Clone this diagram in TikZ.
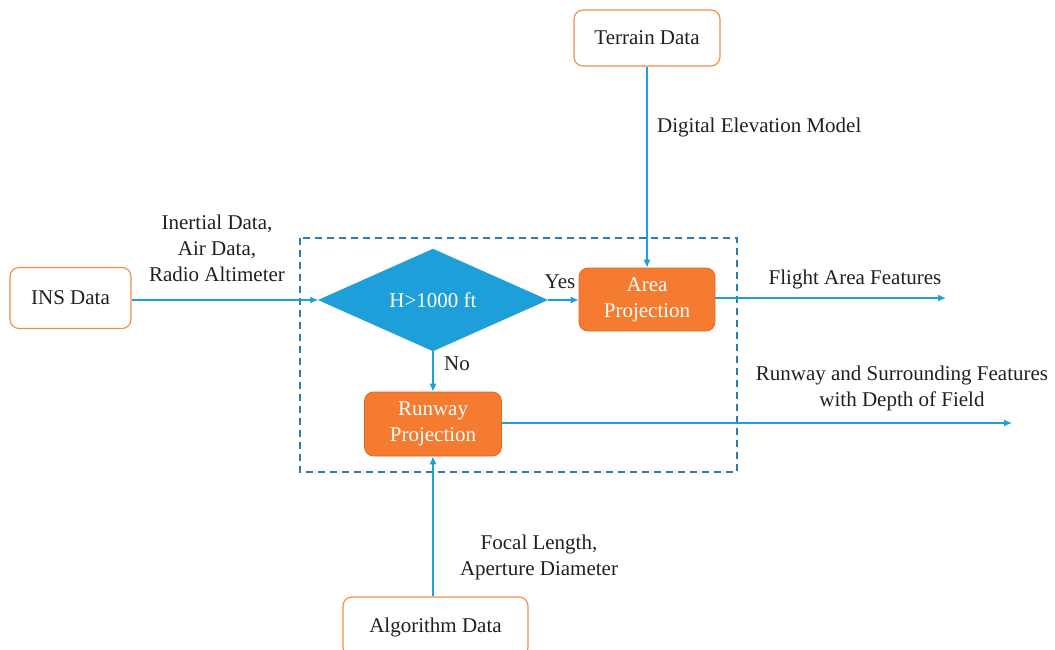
\documentclass[tikz,border=0pt]{standalone}
\usepackage{fontspec}
\setmainfont{Liberation Serif}
\newfontfamily\diagfont{Liberation Serif}
\usetikzlibrary{shapes.geometric,arrows.meta}
\definecolor{borange}{HTML}{F58A45}
\definecolor{forange}{HTML}{F47B30}
\definecolor{dorange}{HTML}{E06A22}
\definecolor{lblue}{HTML}{1E9FDA}
\definecolor{dblue}{HTML}{2C7BAE}
\definecolor{txt}{HTML}{231F20}
\tikzset{
  x=1pt,y=-1pt,
  every node/.style={font=\diagfont\fontsize{21}{26}\selectfont, text=txt},
  databox/.style={draw=borange, line width=1.1pt, rounded corners=9pt, fill=white, inner sep=0pt},
  procbox/.style={draw=dorange, line width=0.8pt, rounded corners=9pt, fill=forange, inner sep=0pt, text=white, align=center},
  decision/.style={diamond, draw=lblue, fill=lblue, inner sep=0pt, text=white},
  flow/.style={draw=lblue, line width=1.1pt, -{Latex[length=8pt,width=7pt]}},
  lbl/.style={align=center, inner sep=0pt},
}
\begin{document}
\begin{tikzpicture}
\useasboundingbox (0,0) rectangle (1055,650);
% dashed frame
\draw[dblue, line width=1.1pt, dash pattern=on 7pt off 5pt] (300,238) rectangle (737,472);
% nodes
\node[databox, minimum width=121pt, minimum height=61pt] (ins) at (70.5,298) {INS Data};
\node[databox, minimum width=146pt, minimum height=56pt] (terrain) at (647,38) {Terrain Data};
\node[databox, minimum width=185pt, minimum height=60pt] (algo) at (435.5,627) {Algorithm Data};
\node[decision, minimum width=229pt, minimum height=88pt] (dec) at (433,300) {H>1000 ft};
\node[procbox, minimum width=136pt, minimum height=63pt] (area) at (647,299.5) {Area\\Projection};
\node[procbox, minimum width=137pt, minimum height=64pt] (runway) at (433,424) {Runway\\Projection};
\coordinate (outA) at (946,298);
\coordinate (outR) at (1012,423);
% connectors
\draw[flow] (ins.east |- dec.west) -- (dec.west);
\draw[flow] (dec.east) -- (area.west |- dec.east);
\draw[flow] (dec.south) -- (runway.north);
\draw[flow] (terrain.south) -- (area.north);
\draw[flow] (runway.south |- algo.north) -- (runway.south);
\draw[flow] (area.east |- outA) -- (outA);
\draw[flow] (runway.east |- outR) -- (outR);
% labels
\node[lbl] (l1) at (217,248) {Inertial Data,\\Air Data,\\Radio Altimeter};
\node[lbl, anchor=west] (l2) at (657,127) {Digital Elevation Model};
\node[lbl] (l3) at (560,282) {Yes};
\node[lbl] (l4) at (457,364) {No};
\node[lbl] (l5) at (855,279) {Flight Area Features};
\node[lbl] (l6) at (902,388) {Runway and Surrounding Features\\with Depth of Field};
\node[lbl] (l7) at (539,557) {Focal Length,\\Aperture Diameter};
\end{tikzpicture}
\end{document}
